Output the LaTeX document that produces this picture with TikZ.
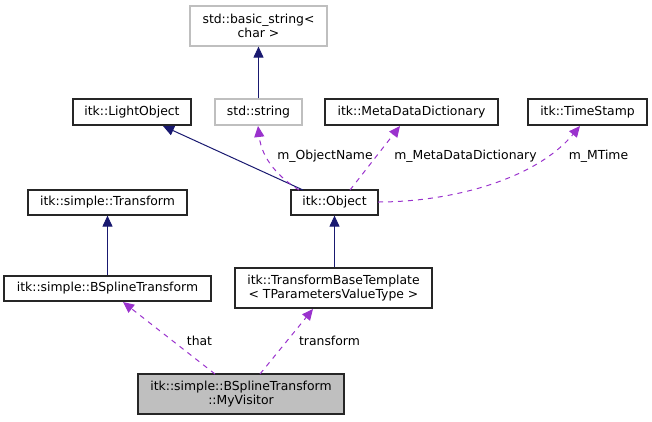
\documentclass[tikz,border=0pt]{standalone}
\usepackage{fontspec}
\setmainfont{DejaVu Sans}
\usetikzlibrary{arrows.meta}
\definecolor{inh}{HTML}{191970}
\definecolor{use}{HTML}{9A32CD}
\definecolor{lgray}{HTML}{BFBFBF}
\tikzset{
  box/.style={draw=black!85, line width=1.2pt, fill=white, inner sep=0pt, align=center,
    font=\fontsize{12.4}{14}\selectfont},
  extbox/.style={box, draw=lgray},
  curbox/.style={box, fill=lgray},
  inherit/.style={draw=inh, line width=1pt, -{Triangle[length=11pt,width=10pt]}},
  usage/.style={draw=use, line width=1pt, dash pattern=on 5pt off 5pt, -{Triangle[length=11pt,width=10pt]}},
  lbl/.style={font=\fontsize{12.4}{14}\selectfont, inner sep=0pt}
}
\begin{document}
\begin{tikzpicture}[x=1pt,y=-1pt]
\useasboundingbox (0,0) rectangle (652,421);
\node[extbox, minimum width=137pt, minimum height=40pt] (bs) at (258.5,26) {std::basic\_string<\\char >};
\node[box, minimum width=118pt, minimum height=26pt] (lo) at (132,112) {itk::LightObject};
\node[extbox, minimum width=87pt, minimum height=26pt] (ss) at (258.5,112) {std::string};
\node[box, minimum width=173pt, minimum height=26pt] (md) at (411.5,112) {itk::MetaDataDictionary};
\node[box, minimum width=119pt, minimum height=26pt] (ts) at (587.5,112) {itk::TimeStamp};
\node[box, minimum width=159pt, minimum height=25pt] (st) at (107.5,202.5) {itk::simple::Transform};
\node[box, minimum width=87pt, minimum height=25pt] (ob) at (334.5,202.5) {itk::Object};
\node[box, minimum width=207pt, minimum height=25pt] (bt) at (107.5,288.5) {itk::simple::BSplineTransform};
\node[box, minimum width=197pt, minimum height=40pt] (tb) at (333.5,288) {itk::TransformBaseTemplate\\< TParametersValueType >};
\node[curbox, minimum width=206pt, minimum height=40pt] (mv) at (241,394) {itk::simple::BSplineTransform\\::MyVisitor};

\coordinate (obl) at (303,190);
\coordinate (obs) at (299,190);
\coordinate (obm) at (350,190);
\coordinate (obr) at (378,202);
\coordinate (lot) at (163,126);
\coordinate (sst) at (258,126);
\coordinate (mdt) at (400,126);
\coordinate (tst) at (580,126);
\coordinate (mvl) at (215,374);
\coordinate (mvr) at (260,374);
\coordinate (btt) at (123,302);
\coordinate (tbt) at (313,309);

\draw[inherit] (ss.north) -- (bs.south);
\draw[inherit] (obl) -- (lot);
\draw[inherit] (bt.north) -- (st.south);
\draw[inherit] (tb.north -| ob.south) -- (ob.south);
\draw[usage] (obs) .. controls (280,178) and (262,160) .. (sst);
\draw[usage] (obm) -- (mdt);
\draw[usage] (obr) .. controls (450,202) and (535,180) .. (tst);
\draw[usage] (mvl) -- (btt);
\draw[usage] (mvr) -- (tbt);

\node[lbl] (l1) at (325,156) {m\_ObjectName};
\node[lbl] (l2) at (465.5,156) {m\_MetaDataDictionary};
\node[lbl] (l3) at (598.5,156) {m\_MTime};
\node[lbl] (l4) at (199.5,340.5) {that};
\node[lbl] (l5) at (329.5,340.5) {transform};
\end{tikzpicture}
\end{document}
